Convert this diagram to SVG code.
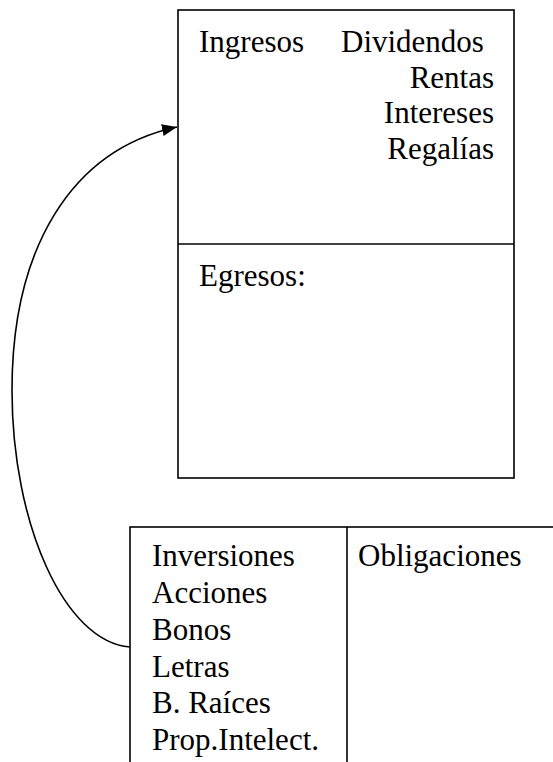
<svg xmlns="http://www.w3.org/2000/svg" width="553" height="762" viewBox="0 0 553 762">
<style>
.box{fill:#fff;stroke:#000;stroke-width:1.6}
.ln{fill:none;stroke:#000;stroke-width:1.6}
.t{font-family:"Liberation Serif","Times New Roman",serif;font-size:31px;fill:#000}
.r{text-anchor:end}
.conn{fill:none;stroke:#000;stroke-width:1.6}
</style>
<defs>
<marker id="arr" markerUnits="userSpaceOnUse" markerWidth="16" markerHeight="12" refX="15" refY="6" orient="auto">
<path d="M0,0 L15,6 L0,12 Z" fill="#000"/>
</marker>
</defs>
<g id="flujo">
<rect class="box" x="178" y="10" width="336" height="468"/>
<line class="ln" x1="178" y1="244" x2="514" y2="244"/>
<text class="t" x="199" y="52">Ingresos</text>
<text class="t" x="341" y="52">Dividendos</text>
<text class="t r" x="494" y="88">Rentas</text>
<text class="t r" x="494" y="123">Intereses</text>
<text class="t r" x="494" y="159">Regalías</text>
<text class="t" x="199" y="286">Egresos:</text>
</g>
<g id="balance">
<rect class="box" x="130" y="527" width="500" height="300"/>
<line class="ln" x1="347" y1="527" x2="347" y2="762"/>
<text class="t" x="152" y="566">Inversiones</text>
<text class="t" x="152" y="603">Acciones</text>
<text class="t" x="152" y="640">Bonos</text>
<text class="t" x="152" y="677">Letras</text>
<text class="t" x="152" y="713">B. Raíces</text>
<text class="t" x="152" y="750">Prop.Intelect.</text>
<text class="t" x="358" y="566">Obligaciones</text>
</g>
<g id="connectors">
<path class="conn" d="M130,647 C65,642 12,525 12,390 C12,250 70,150 177,127" marker-end="url(#arr)"/>
</g>
</svg>
